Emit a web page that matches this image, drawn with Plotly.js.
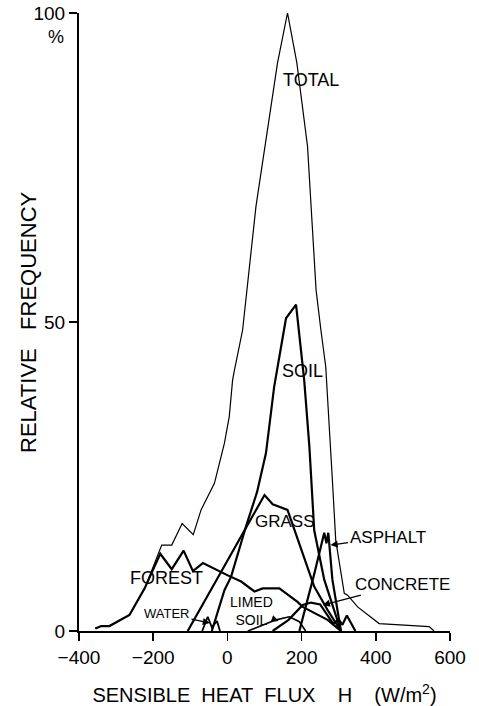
<!DOCTYPE html>
<html>
<head>
<meta charset="utf-8">
<script src="https://cdn.plot.ly/plotly-3.0.1.min.js"></script>
<style>html,body{margin:0;padding:0;background:#fff;}#chart{width:479px;height:706px;}</style>
</head>
<body>
<div id="chart"></div>
<script>
// Sensible heat flux H (W/m2) and relative frequency (%)
const totalH = [-356, -340, -318, -264, -223, -177, -150, -122, -92, -71, -35, -26, -8, 5, 14, 19, 41, 77, 104, 135, 162, 187, 216, 230, 239, 252, 265, 283, 292, 315, 324, 351, 409, 544, 557];
const totalF = [0.4, 0.8, 0.8, 2.6, 6.9, 13.9, 13.9, 17.4, 15.6, 19.6, 23.9, 26, 30.4, 34.7, 40.6, 42.2, 48.7, 68.7, 79.4, 91.9, 100, 92, 78.4, 63.3, 55.2, 48.7, 42.8, 24.4, 14.7, 6.1, 5.8, 3.9, 1.2, 0.7, 0];

const forestH = [-356, -340, -318, -264, -223, -181, -150, -118, -93, -66, 1, 37, 73, 95, 140, 189, 203, 270, 306];
const forestF = [0.4, 0.8, 0.8, 2.6, 6.9, 12.5, 10, 13, 9.7, 11, 9, 8, 6.4, 6.9, 6.9, 4.7, 3.9, 1.8, 0];

const soilH = [-42, -8, 10, 50, 80, 104, 126, 158, 185, 207, 221, 234, 261, 306];
const soilF = [0, 6.6, 8.8, 16.9, 22.5, 28.8, 39.5, 50.6, 52.8, 40.6, 29.8, 16.3, 8.3, 0];

const grassH = [-107, 100, 122, 162, 234, 270, 306];
const grassF = [0, 22, 20.5, 19.6, 7.2, 3.4, 0];

const asphaltH = [194, 234, 261, 267, 272, 283, 306];
const asphaltF = [0, 9.2, 15.9, 14.2, 15.9, 8.3, 0];

const concreteH = [122, 165, 203, 225, 250, 265, 285, 300, 310, 322, 345];
const concreteF = [0, 1.8, 4.2, 4.6, 4.3, 3.0, 1.2, 1.9, 1.0, 2.5, 0];

const limedH = [55, 100, 131, 167, 194, 211];
const limedF = [0, 1.1, 1.8, 2.3, 1.5, 0];

const waterH = [-68, -53, -42, -28, -20];
const waterF = [0, 2.3, 0.6, 1.6, 0];

const xTicks = [-400, -200, 0, 200, 400, 600];
const yTicks = [0, 50, 100];
const yTickText = ['0', '50', '100'];

const FONT = 'Liberation Sans, Arial, sans-serif';

function series(name, xs, ys, w) {
  return {x: xs, y: ys, name: name, type: 'scatter', mode: 'lines',
          line: {color: '#000', width: w}, hoverinfo: 'x+y+name'};
}

const data = [
  series('TOTAL', totalH, totalF, 1.2),
  series('FOREST', forestH, forestF, 2.2),
  series('SOIL', soilH, soilF, 2.2),
  series('GRASS', grassH, grassF, 2.2),
  series('ASPHALT', asphaltH, asphaltF, 2.2),
  series('CONCRETE', concreteH, concreteF, 2.2),
  series('LIMED SOIL', limedH, limedF, 1.6),
  series('WATER', waterH, waterF, 1.8)
];

function lbl(text, x, y, size) {
  return {text: text, x: x, y: y, xref: 'x', yref: 'y', showarrow: false,
          font: {family: FONT, size: size, color: '#000'}};
}
function arrowLbl(text, x, y, ax, ay, size) {
  return {text: text, x: x, y: y, xref: 'x', yref: 'y', showarrow: true,
          ax: ax, ay: ay, arrowhead: 2, arrowsize: 1.1, arrowwidth: 1.3,
          arrowcolor: '#000', font: {family: FONT, size: size, color: '#000'}};
}

const layout = {
  width: 479, height: 706,
  margin: {l: 79, r: 29, t: 13, b: 75},
  paper_bgcolor: '#fff', plot_bgcolor: '#fff',
  showlegend: false,
  font: {family: FONT, color: '#000', size: 18},
  xaxis: {
    range: [-400, 600], tickvals: xTicks, showgrid: false, zeroline: false,
    showline: true, linewidth: 2, linecolor: '#000',
    ticks: 'outside', ticklen: 8, tickwidth: 1.5, tickcolor: '#000',
    tickfont: {family: FONT, size: 19, color: '#000'},
    title: {text: 'SENSIBLE\u00a0 HEAT\u00a0 FLUX\u00a0 \u00a0 H\u00a0 \u00a0 (W/m<sup>2</sup>)', standoff: 25,
            font: {family: FONT, size: 20, color: '#000'}}
  },
  yaxis: {
    range: [0, 100], tickvals: yTicks, ticktext: yTickText, showgrid: false, zeroline: false,
    showline: true, linewidth: 2, linecolor: '#000',
    ticks: 'outside', ticklen: 8, tickwidth: 1.5, tickcolor: '#000',
    tickfont: {family: FONT, size: 19, color: '#000'}
  },
  annotations: [
    {text: 'RELATIVE\u00a0 \u00a0FREQUENCY', x: -0.1375, y: 0.5, xref: 'paper', yref: 'paper',
     xanchor: 'center', yanchor: 'middle', textangle: -90, showarrow: false,
     font: {family: FONT, size: 22, color: '#000'}},
    lbl('TOTAL', 224, 89.2, 18),
    lbl('SOIL', 203, 42.1, 18),
    lbl('GRASS', 154, 17.8, 17),
    lbl('FOREST', -163, 8.6, 18),
    arrowLbl('ASPHALT', 278, 13.9, 57, -8, 17),
    arrowLbl('CONCRETE', 257, 4.2, 80, -21, 17),
    arrowLbl('WATER', -47, 1.3, -43, -9, 13),
    arrowLbl('LIMED<br>SOIL', 138, 1.6, -27, -10, 14),
    {text: '%', x: -0.062, y: 0.961, xref: 'paper', yref: 'paper', showarrow: false,
     xanchor: 'center', yanchor: 'middle',
     font: {family: FONT, size: 18, color: '#000'}}
  ]
};

Plotly.newPlot('chart', data, layout, {staticPlot: true, displayModeBar: false});
</script>
</body>
</html>
